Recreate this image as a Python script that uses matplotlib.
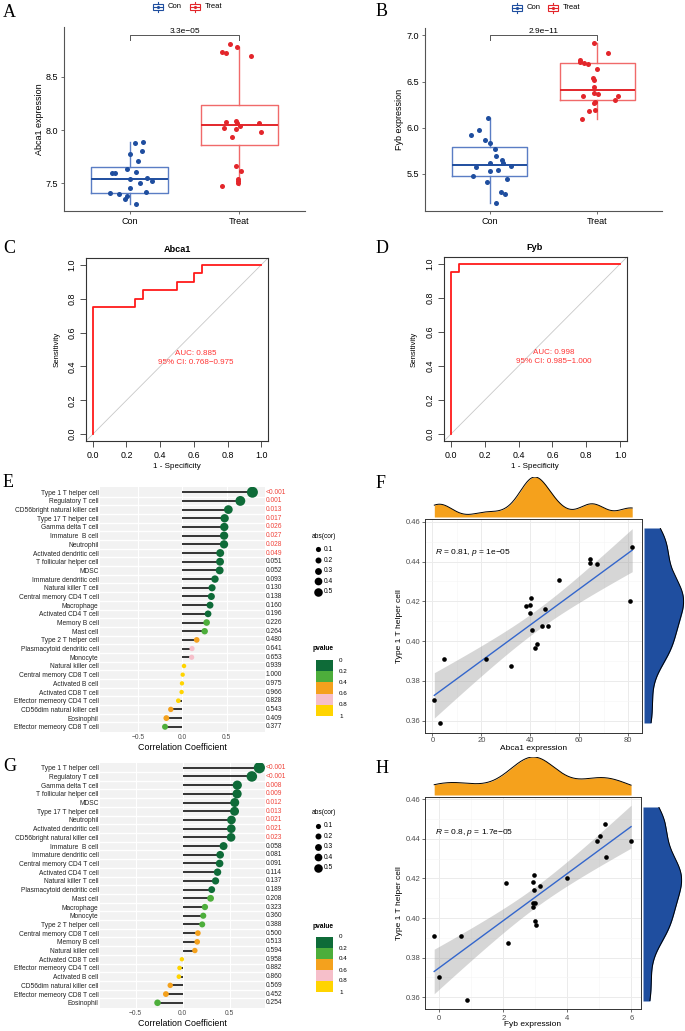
import numpy as np
import matplotlib
matplotlib.use('Agg')
import matplotlib.pyplot as plt
from matplotlib.patches import Rectangle
from matplotlib.transforms import blended_transform_factory

plt.rcParams['font.family'] = ['Liberation Sans', 'DejaVu Sans']
plt.rcParams['mathtext.fontset'] = 'custom'
plt.rcParams['mathtext.rm'] = 'Liberation Sans'
plt.rcParams['mathtext.it'] = 'Liberation Sans:italic'

# ---------------- data: A / B boxplots ----------------
groups = ['Con', 'Treat']

abca1_con = [7.891, 7.875, 7.803, 7.772, 7.713, 7.631, 7.594, 7.594, 7.606, 7.547,
             7.538, 7.522, 7.500, 7.456, 7.413, 7.416, 7.397, 7.378, 7.356, 7.309]
abca1_con_jit = [0.119, 0.052, 0.113, 0.003, 0.073, -0.028, -0.159, -0.131, 0.058, 0.159,
                 0.000, 0.199, 0.098, 0.006, -0.177, 0.147, -0.098, -0.024, -0.043, 0.061]
abca1_treat = [8.809, 8.781, 8.734, 8.722, 8.694, 8.075, 8.084, 8.066, 8.063, 8.022,
               8.038, 8.013, 7.978, 7.934, 7.659, 7.619, 7.541, 7.522, 7.503, 7.478]
abca1_treat_jit = [-0.083, -0.018, -0.162, -0.119, 0.107, -0.125, -0.031, -0.024, 0.177, -0.135,
                   0.003, -0.034, 0.196, -0.070, -0.028, 0.012, -0.015, -0.015, -0.012, -0.159]
# whisker low, q1, median, q3, whisker high
abca1_con_box = [7.309, 7.413, 7.538, 7.653, 7.891]
abca1_treat_box = [7.488, 7.863, 8.050, 8.238, 8.781]
abca1_p = '3.3e\u221205'

fyb_con = [6.101, 5.978, 5.920, 5.862, 5.837, 5.768, 5.696, 5.652, 5.623, 5.616,
           5.583, 5.572, 5.543, 5.533, 5.482, 5.446, 5.417, 5.301, 5.286, 5.185]
fyb_con_jit = [-0.018, -0.098, -0.174, -0.040, 0.006, 0.052, 0.061, 0.116, 0.006, 0.122,
               0.196, -0.128, 0.076, 0.006, -0.159, 0.159, -0.028, 0.101, 0.147, 0.058]
fyb_treat = [6.913, 6.804, 6.732, 6.714, 6.699, 6.692, 6.638, 6.536, 6.518, 6.446,
             6.377, 6.362, 6.344, 6.341, 6.304, 6.283, 6.268, 6.178, 6.196, 6.094]
fyb_treat_jit = [-0.028, 0.098, -0.165, -0.159, -0.125, -0.089, -0.003, -0.040, -0.031, -0.031,
                 -0.028, 0.006, -0.131, 0.190, 0.168, -0.018, -0.028, -0.076, -0.021, -0.141]
fyb_con_box = [5.188, 5.475, 5.601, 5.790, 6.101]
fyb_treat_box = [6.098, 6.301, 6.409, 6.696, 6.913]
fyb_p = '2.9e\u221211'

# ---------------- data: C / D ROC ----------------
abca1_fpr = [0, 0, 0.25, 0.30, 0.50, 0.60, 0.65, 1.0]
abca1_tpr = [0, 0.75, 0.80, 0.85, 0.90, 0.95, 1.0, 1.0]
abca1_auc = ['AUC: 0.885', '95% CI: 0.768\u22120.975']
fyb_fpr = [0, 0, 0.05, 1.0]
fyb_tpr = [0, 0.95, 1.0, 1.0]
fyb_auc = ['AUC: 0.998', '95% CI: 0.985\u22121.000']

# ---------------- data: E / G lollipops ----------------
e_cells = ['Type 1 T helper cell', 'Regulatory T cell', 'CD56bright natural killer cell',
           'Type 17 T helper cell', 'Gamma delta T cell', 'Immature  B cell', 'Neutrophil',
           'Activated dendritic cell', 'T follicular helper cell', 'MDSC',
           'Immature dendritic cell', 'Natural killer T cell', 'Central memory CD4 T cell',
           'Macrophage', 'Activated CD4 T cell', 'Memory B cell', 'Mast cell',
           'Type 2 T helper cell', 'Plasmacytoid dendritic cell', 'Monocyte',
           'Natural killer cell', 'Central memory CD8 T cell', 'Activated B cell',
           'Activated CD8 T cell', 'Effector memeory CD4 T cell', 'CD56dim natural killer cell',
           'Eosinophil', 'Effector memeory CD8 T cell']
e_cor = [0.790, 0.654, 0.519, 0.477, 0.473, 0.471, 0.470, 0.427, 0.425, 0.421,
         0.368, 0.335, 0.327, 0.312, 0.290, 0.274, 0.252, 0.162, 0.109, 0.105,
         0.019, 0.004, -0.004, -0.008, -0.045, -0.130, -0.180, -0.195]
e_p = ['<0.001', '0.001', '0.013', '0.017', '0.026', '0.027', '0.028', '0.049', '0.051', '0.052',
       '0.093', '0.130', '0.138', '0.160', '0.196', '0.226', '0.264', '0.480', '0.641', '0.653',
       '0.939', '1.000', '0.975', '0.966', '0.828', '0.543', '0.409', '0.377']

g_cells = ['Type 1 T helper cell', 'Regulatory T cell', 'Gamma delta T cell',
           'T follicular helper cell', 'MDSC', 'Type 17 T helper cell', 'Neutrophil',
           'Activated dendritic cell', 'CD56bright natural killer cell', 'Immature  B cell',
           'Immature dendritic cell', 'Central memory CD4 T cell', 'Activated CD4 T cell',
           'Natural killer T cell', 'Plasmacytoid dendritic cell', 'Mast cell', 'Macrophage',
           'Monocyte', 'Type 2 T helper cell', 'Central memory CD8 T cell', 'Memory B cell',
           'Natural killer cell', 'Activated CD8 T cell', 'Effector memeory CD4 T cell',
           'Activated B cell', 'CD56dim natural killer cell', 'Effector memeory CD8 T cell',
           'Eosinophil']
g_cor = [0.815, 0.735, 0.580, 0.578, 0.553, 0.551, 0.518, 0.516, 0.514, 0.434,
         0.398, 0.392, 0.370, 0.349, 0.308, 0.296, 0.236, 0.218, 0.207, 0.161,
         0.154, 0.129, -0.009, -0.034, -0.041, -0.133, -0.179, -0.268]
g_p = ['<0.001', '<0.001', '0.008', '0.009', '0.012', '0.013', '0.021', '0.021', '0.023', '0.058',
       '0.081', '0.091', '0.114', '0.137', '0.189', '0.208', '0.323', '0.360', '0.388', '0.500',
       '0.513', '0.594', '0.958', '0.882', '0.860', '0.569', '0.452', '0.254']

size_keys = [0.1, 0.2, 0.3, 0.4, 0.5]
p_breaks = ['0', '0.2', '0.4', '0.6', '0.8', '1']
p_colors = ['#0E6B38', '#4DAE3B', '#F4A11D', '#F6BFCA', '#FFD400']

# ---------------- data: F / H scatter ----------------
th1 = [0.4473, 0.4412, 0.4391, 0.4387, 0.4309, 0.4218, 0.4178, 0.4181, 0.4161, 0.4143, 0.4201,
       0.4074, 0.4077, 0.4056, 0.3985, 0.3965, 0.3910, 0.3910, 0.3875, 0.3702, 0.3587]
abca1_x = [81.6, 64.2, 64.5, 67.1, 51.7, 40.3, 38.1, 39.9, 46.0, 39.9, 80.8,
           44.8, 47.2, 40.5, 42.9, 41.8, 21.8, 4.8, 32.0, 0.8, 3.0]
fyb_x = [5.18, 5.01, 4.93, 5.99, 5.20, 2.96, 2.08, 2.93, 3.13, 2.96, 3.98,
         2.94, 3.00, 2.93, 2.99, 3.03, 0.68, -0.16, 2.13, 0.00, 0.85]
f_note = '$\\it{R}$ = 0.81, $\\it{p}$ = 1e\u221205'
h_note = '$\\it{R}$ = 0.8, $\\it{p}$ = 1.7e\u221205'

# ---------------- figure ----------------
W, H = 685, 1031
fig = plt.figure(figsize=(W / 100, H / 100), dpi=100)


def add_ax(l, t, r, b):
    return fig.add_axes([l / W, 1 - b / H, (r - l) / W, (b - t) / H])


CON_BOX, CON_DARK = '#5A7DC4', '#1F4E9F'
TRT_BOX, TRT_DARK = '#F06A6A', '#E3262B'


def box_panel(ax, con, con_j, trt, trt_j, con_box, trt_box, ylim, yticks, pval, br_y, br_low):
    sets = [(con, con_j, con_box, CON_BOX, CON_DARK), (trt, trt_j, trt_box, TRT_BOX, TRT_DARK)]
    for i, (vals, jit, st, cb, cd) in enumerate(sets):
        pos = i + 1
        stats = [dict(whislo=st[0], q1=st[1], med=st[2], q3=st[3], whishi=st[4], fliers=[])]
        ax.bxp(stats, positions=[pos], widths=0.7, showfliers=False, showcaps=False,
               boxprops=dict(color=cb, lw=1.0), whiskerprops=dict(color=cb, lw=1.0),
               medianprops=dict(color=cd, lw=1.4))
        ax.scatter(pos + np.array(jit), vals, s=13, color=cd, lw=0, zorder=3)
    ax.plot([1, 1, 2, 2], [br_low, br_y, br_y, br_low], color='#555555', lw=0.7)
    ax.text(1.5, br_y, pval, ha='center', va='bottom', fontsize=6)
    ax.set_xlim(0.4, 2.6)
    ax.set_ylim(*ylim)
    ax.set_xticks([1, 2])
    ax.set_xticklabels(groups)
    ax.set_yticks(yticks)
    ax.set_yticklabels(['%.1f' % v for v in yticks])
    for s in ['top', 'right']:
        ax.spines[s].set_visible(False)
    for s in ['left', 'bottom']:
        ax.spines[s].set_color('#555555')
        ax.spines[s].set_linewidth(0.8)
    ax.tick_params(labelsize=6.5, length=2.5, width=0.6, color='#555555', pad=1.5)


axA = add_ax(64, 27, 305, 211)
box_panel(axA, abca1_con, abca1_con_jit, abca1_treat, abca1_treat_jit,
          abca1_con_box, abca1_treat_box, (7.241, 8.966), [7.5, 8.0, 8.5], abca1_p, 8.888, 8.841)
axB = add_ax(425, 28, 662, 211)
box_panel(axB, fyb_con, fyb_con_jit, fyb_treat, fyb_treat_jit,
          fyb_con_box, fyb_treat_box, (5.098, 7.08), [5.5, 6.0, 6.5, 7.0], fyb_p, 7.0, 6.946)


def roc_panel(ax, fpr, tpr, auc_lines):
    ax.axline((0, 0), (1, 1), color='#C8C8C8', lw=0.6)
    ax.plot(fpr, tpr, color='#FF1A1A', lw=1.3, drawstyle='steps-post')
    ax.text(0.61, 0.478, auc_lines[0], color='#FF3333', ha='center', va='center', fontsize=5.8)
    ax.text(0.61, 0.425, auc_lines[1], color='#FF3333', ha='center', va='center', fontsize=5.8)
    ax.set_xlim(-0.04, 1.04)
    ax.set_ylim(-0.04, 1.04)
    ticks = [0, 0.2, 0.4, 0.6, 0.8, 1.0]
    ax.set_xticks(ticks)
    ax.set_xticklabels(['%.1f' % t for t in ticks])
    ax.set_yticks(ticks)
    ax.set_yticklabels(['%.1f' % t for t in ticks], rotation=90, va='center')
    for s in ax.spines.values():
        s.set_color('#333333')
        s.set_linewidth(0.8)
    ax.tick_params(labelsize=6.4, length=4, width=0.6, color='#333333', pad=3)


axC = add_ax(86, 258, 268, 441)
roc_panel(axC, abca1_fpr, abca1_tpr, abca1_auc)
axD = add_ax(444, 257, 627, 441)
roc_panel(axD, fyb_fpr, fyb_tpr, fyb_auc)


def psize(v):
    d = 4.3 + 8.5 * abs(v)
    return (d * 0.72) ** 2


def pcol(p):
    idx = min(int(p / 0.2), 4)
    return p_colors[idx]


def lolli_panel(ax, cells, cors, plabels, xlim, xpad):
    n = len(cells)
    y = np.arange(n)
    pnum = [0.0 if s.startswith('<') else float(s) for s in plabels]
    ax.set_facecolor('#F2F2F2')
    for k in range(n - 1):
        ax.axhline(k + 0.5, color='white', lw=1.0, zorder=0)
    for xv in [-0.5, 0, 0.5]:
        ax.axvline(xv, color='white', lw=0.8, zorder=0)
    ax.hlines(y, 0, cors, color='black', lw=1.1, zorder=2)
    ax.scatter(cors, y, s=[psize(c) for c in cors], c=[pcol(p) for p in pnum], lw=0, zorder=3)
    tr = blended_transform_factory(ax.transAxes, ax.transData)
    for yi, lab, p in zip(y, plabels, pnum):
        ax.text(1.006, yi, lab, transform=tr, ha='left', va='center', fontsize=4.8,
                color='#F0433A' if p < 0.05 else '#222222')
    ax.set_xlim(*xlim)
    ax.set_ylim(n - 1 + 0.6, -0.6)
    ax.set_yticks(y)
    ax.set_yticklabels(cells)
    ax.set_xticks([-0.5, 0, 0.5])
    ax.set_xticklabels(['\u22120.5', '0.0', '0.5'])
    for s in ax.spines.values():
        s.set_visible(False)
    ax.tick_params(axis='y', length=0, pad=1, labelsize=4.8, labelcolor='#222222')
    ax.tick_params(axis='x', length=0, pad=xpad, labelsize=4.8, labelcolor='#4D4D4D')


axE = add_ax(100, 487, 265, 732)
lolli_panel(axE, e_cells, e_cor, e_p, (-0.928, 0.932), 1.6)
axG = add_ax(100, 762.5, 265, 1008)
lolli_panel(axG, g_cells, g_cor, g_p, (-0.88, 0.875), 1.6)


def kde_nrd0(v, n_grid=512):
    v = np.asarray(v, dtype=float)
    n = len(v)
    sd = v.std(ddof=1)
    q75, q25 = np.percentile(v, [75, 25])
    bw = 0.9 * min(sd, (q75 - q25) / 1.34) * n ** -0.2
    g = np.linspace(v.min(), v.max(), n_grid)
    d = np.exp(-0.5 * ((g[:, None] - v[None, :]) / bw) ** 2).sum(1) / (n * bw * np.sqrt(2 * np.pi))
    return g, d


def scatter_panel(ax, x, y, xlim, xticks, ylim):
    x = np.asarray(x)
    y = np.asarray(y)
    n = len(x)
    b1, b0 = np.polyfit(x, y, 1)
    gx = np.linspace(x.min(), x.max(), 80)
    fit = b0 + b1 * gx
    s = np.sqrt(((y - (b0 + b1 * x)) ** 2).sum() / (n - 2))
    se = s * np.sqrt(1 / n + (gx - x.mean()) ** 2 / ((x - x.mean()) ** 2).sum())
    tq = 2.093  # t(0.975, df=19)
    ax.fill_between(gx, fit - tq * se, fit + tq * se, color='#999999', alpha=0.4, lw=0, zorder=1)
    ax.plot(gx, fit, color='#3366CC', lw=1.0, zorder=2)
    ax.scatter(x, y, s=11, color='black', lw=0, zorder=3)
    ax.set_xlim(*xlim)
    ax.set_ylim(*ylim)
    ax.set_xticks(xticks)
    ax.set_xticks([(a + b) / 2 for a, b in zip(xticks[:-1], xticks[1:])], minor=True)
    yt = [0.36, 0.38, 0.40, 0.42, 0.44, 0.46]
    ax.set_yticks(yt)
    ax.set_yticklabels(['%.2f' % v for v in yt])
    ax.set_yticks([0.37, 0.39, 0.41, 0.43, 0.45], minor=True)
    ax.set_axisbelow(True)
    ax.grid(which='major', color='#EBEBEB', lw=0.7)
    ax.grid(which='minor', color='#F5F5F5', lw=0.4)
    for sp in ax.spines.values():
        sp.set_color('#333333')
        sp.set_linewidth(0.7)
    ax.tick_params(which='major', labelsize=5.5, labelcolor='#4D4D4D', length=2, width=0.5,
                   color='#333333', pad=1.2)
    ax.tick_params(which='minor', length=0)


def marginals(top_box, right_box, x, y, xlim):
    axt = add_ax(*top_box)
    gx, dx = kde_nrd0(x)
    axt.fill_between(gx, 0, dx, color='#F5A11C', lw=0)
    axt.plot(gx, dx, color='black', lw=0.7)
    axt.set_xlim(*xlim)
    axt.set_ylim(0, dx.max())
    axt.axis('off')
    axr = add_ax(*right_box)
    gy, dy = kde_nrd0(y)
    axr.fill_betweenx(gy, 0, dy, color='#1F4E9F', lw=0)
    axr.plot(dy, gy, color='black', lw=0.7)
    axr.set_ylim(gy.min(), gy.max())
    axr.set_xlim(0, dy.max() * 1.01)
    axr.axis('off')


f_xlim = (-3.0, 85.6)
axF = add_ax(425, 519, 642, 733)
scatter_panel(axF, abca1_x, th1, f_xlim, [0, 20, 40, 60, 80], (0.3538, 0.4614))
marginals((425, 477, 642, 517), (644, 528, 684, 723), abca1_x, th1, f_xlim)

h_xlim = (-0.447, 6.30)
axH = add_ax(425, 797, 641, 1009)
scatter_panel(axH, fyb_x, th1, h_xlim, [0, 2, 4, 6], (0.3541, 0.4611))
axH.tick_params(axis='x', pad=2.5)
marginals((425, 757, 641, 795), (643, 807, 682, 1001), fyb_x, th1, h_xlim)

# ---------------- overlay in pixel coordinates ----------------
ov = fig.add_axes([0, 0, 1, 1], zorder=10)
ov.set_xlim(0, W)
ov.set_ylim(H, 0)
ov.axis('off')

serif = ['Liberation Serif', 'DejaVu Serif']
for lab, x0, y0 in [('A', 3, 4), ('B', 376, 3), ('C', 3, 240), ('D', 376, 240),
                    ('E', 3, 474), ('F', 376, 475), ('G', 3, 758), ('H', 376, 760)]:
    ov.text(x0, y0, lab, family=serif, fontsize=13, ha='left', va='top')


def box_key(cx, cy, color, label):
    ov.add_patch(Rectangle((cx - 5, cy - 3), 10, 6, fill=False, ec=color, lw=0.8))
    ov.plot([cx, cx], [cy - 5, cy - 3], color=color, lw=0.8)
    ov.plot([cx, cx], [cy + 3, cy + 5], color=color, lw=0.8)
    ov.plot([cx - 5, cx + 5], [cy, cy], color=color, lw=0.8)
    ov.scatter([cx], [cy], s=5, color=color, lw=0)
    ov.text(cx + 10, cy, label, ha='left', va='center', fontsize=5.5)


box_key(158, 7, CON_DARK, 'Con')
box_key(195, 7, TRT_DARK, 'Treat')
box_key(517, 7.5, CON_DARK, 'Con')
box_key(553, 7.5, TRT_DARK, 'Treat')

ov.text(40, 119, 'Abca1 expression', rotation=90, ha='center', va='center', fontsize=6.5)
ov.text(400, 119.5, 'Fyb expression', rotation=90, ha='center', va='center', fontsize=6.5)

ov.text(177, 249, 'Abca1', ha='center', va='center', fontsize=6.6, fontweight='bold')
ov.text(535, 248, 'Fyb', ha='center', va='center', fontsize=6.6, fontweight='bold')
ov.text(57, 349.5, 'Sensitivity', rotation=90, ha='center', va='center', fontsize=5.6)
ov.text(414, 349, 'Sensitivity', rotation=90, ha='center', va='center', fontsize=5.6)
ov.text(177, 466, '1 - Specificity', ha='center', va='center', fontsize=5.8)
ov.text(535, 466, '1 - Specificity', ha='center', va='center', fontsize=5.8)

ov.text(182.5, 748, 'Correlation Coefficient', ha='center', va='center', fontsize=6.4)
ov.text(182.5, 1024, 'Correlation Coefficient', ha='center', va='center', fontsize=6.4)


def lolli_legend(t_abs, key_ys, t_p, bar_top, bar_bot):
    ov.text(311.5, t_abs, 'abs(cor)', ha='left', va='center', fontsize=4.8)
    for v, yy in zip(size_keys, key_ys):
        ov.scatter([318.5], [yy], s=psize(v), color='black', lw=0)
        ov.text(324, yy, '%.1f' % v, ha='left', va='center', fontsize=4.8)
    ov.text(312.5, t_p, 'pvalue', ha='left', va='center', fontsize=4.8, fontweight='bold')
    step = (bar_bot - bar_top) / len(p_colors)
    for k, c in enumerate(p_colors):
        ov.add_patch(Rectangle((315.7, bar_top + k * step), 17.6, step, color=c, lw=0))
    for k, lab in enumerate(p_breaks):
        ov.text(339, bar_top + k * step, lab, ha='left', va='center', fontsize=4.5)


lolli_legend(537, [549.3, 560, 570.7, 581.3, 591.7], 649, 660, 716)
lolli_legend(812, [825.7, 836, 846.7, 857.3, 867.7], 926, 937, 992)

ov.text(533.5, 748, 'Abca1 expression', ha='center', va='center', fontsize=6)
ov.text(533, 1025, 'Fyb expression', ha='center', va='center', fontsize=6)
ov.text(400, 626, 'Type 1 T helper cell', rotation=90, ha='center', va='center', fontsize=6)
ov.text(400, 903, 'Type 1 T helper cell', rotation=90, ha='center', va='center', fontsize=6)
ov.text(435, 553, f_note, ha='left', va='center', fontsize=6)
ov.text(435, 833, h_note, ha='left', va='center', fontsize=6)

fig.savefig('out.png', dpi=100)
